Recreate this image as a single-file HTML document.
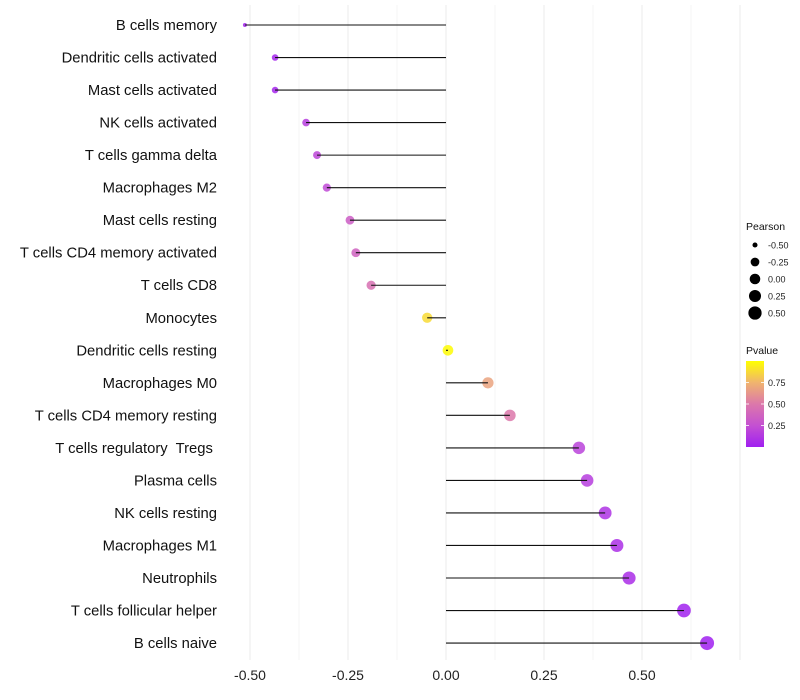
<!DOCTYPE html>
<html><head><meta charset="utf-8"><style>
body{margin:0;background:#fff;}
svg{display:block;font-family:"Liberation Sans",sans-serif;}
</style></head><body>
<svg id="chart" width="800" height="700"></svg>
<script>
const categories=["B cells memory","Dendritic cells activated","Mast cells activated","NK cells activated","T cells gamma delta","Macrophages M2","Mast cells resting","T cells CD4 memory activated","T cells CD8","Monocytes","Dendritic cells resting","Macrophages M0","T cells CD4 memory resting","T cells regulatory  Tregs ","Plasma cells","NK cells resting","Macrophages M1","Neutrophils","T cells follicular helper","B cells naive"];
const pearson=[-0.513,-0.436,-0.436,-0.357,-0.329,-0.304,-0.245,-0.230,-0.191,-0.048,0.005,0.107,0.163,0.339,0.360,0.406,0.436,0.467,0.607,0.666];
const pvalue=[0.02,0.03,0.03,0.15,0.2,0.22,0.33,0.36,0.45,0.88,0.99,0.68,0.5,0.18,0.15,0.1,0.08,0.07,0.01,0.002];
const xTicks=[-0.5,-0.25,0,0.25,0.5];
const xTickLabels=["-0.50","-0.25","0.00","0.25","0.50"];
const sizeLegendVals=[-0.5,-0.25,0,0.25,0.5];
const sizeLegendLabels=["-0.50","-0.25","0.00","0.25","0.50"];
const pLegendVals=[0.25,0.5,0.75];
const pLegendLabels=["0.25","0.50","0.75"];

const NS="http://www.w3.org/2000/svg";
const svg=document.getElementById('chart');
function mk(tag,attrs,parent){const e=document.createElementNS(NS,tag);for(const k in attrs)e.setAttribute(k,attrs[k]);(parent||svg).appendChild(e);return e;}
const x=v=>446+v*392;
const y=i=>25+i*32.53;
const pmin=-0.513,pmax=0.666;
const r=v=>2+5*Math.sqrt(Math.max(0,(v-pmin)/(pmax-pmin)));
const stops=[[0,[160,32,240]],[0.25,[196,80,210]],[0.5,[220,120,170]],[0.75,[240,180,110]],[1,[255,255,0]]];
function col(p){for(let k=1;k<stops.length;k++){if(p<=stops[k][0]){const a=stops[k-1],b=stops[k];const t=(p-a[0])/(b[0]-a[0]);const c=a[1].map((v,j)=>Math.round(v+(b[1][j]-v)*t));return `rgb(${c})`;}}return 'rgb(255,255,0)';}

for(let g=-0.5;g<=0.75;g+=0.125){const l=mk('line',{x1:x(g),x2:x(g),y1:5,y2:660,stroke:Math.abs(g*4-Math.round(g*4))<1e-6?'#ebebeb':'#f4f4f4','stroke-width':1});

}
xTicks.forEach((t,i)=>{const tx=mk('text',{x:x(t),y:680,'text-anchor':'middle','font-size':14,fill:'#222'});tx.textContent=xTickLabels[i];

});
categories.forEach((c,i)=>{
 const lab=mk('text',{x:217,y:y(i)+5,'text-anchor':'end','font-size':14.8,fill:'#111','xml:space':'preserve'});lab.textContent=c;
 lab.style.whiteSpace='pre';
 
 
 const pt=mk('circle',{cx:x(pearson[i]),cy:y(i),r:r(pearson[i]),fill:col(pvalue[i]),'fill-opacity':0.85});
 
 
 const seg=mk('line',{x1:x(0),x2:x(pearson[i]),y1:y(i),y2:y(i),stroke:'#111','stroke-width':1.1});
 
 
});
const lt=mk('text',{x:746,y:230,'font-size':10.5,fill:'#111'});lt.textContent='Pearson';


sizeLegendVals.forEach((v,i)=>{const cy=245+i*17;
 const c=mk('circle',{cx:755,cy:cy,r:r(v),fill:'#000'});
 
 
 const t=mk('text',{x:768,y:cy+3.5,'font-size':9,fill:'#222'});t.textContent=sizeLegendLabels[i];
 
 });
const ct=mk('text',{x:746,y:354,'font-size':10.5,fill:'#111'});ct.textContent='Pvalue';


const defs=mk('defs',{});const lg=mk('linearGradient',{id:'pg',x1:0,y1:1,x2:0,y2:0},defs);
stops.forEach(s=>mk('stop',{offset:s[0],'stop-color':col(s[0])},lg));
const bar=mk('rect',{x:746,y:361,width:18,height:86,fill:'url(#pg)'});


const pScaleY=p=>447-p*86;
pLegendVals.forEach((v,i)=>{const yy=pScaleY(v);
 mk('line',{x1:746,x2:749,y1:yy,y2:yy,stroke:'#fff','stroke-width':0.8});
 mk('line',{x1:761,x2:764,y1:yy,y2:yy,stroke:'#fff','stroke-width':0.8});
 const t=mk('text',{x:768,y:yy+3.5,'font-size':9,fill:'#222'});t.textContent=pLegendLabels[i];
 
 });
</script>
</body></html>
